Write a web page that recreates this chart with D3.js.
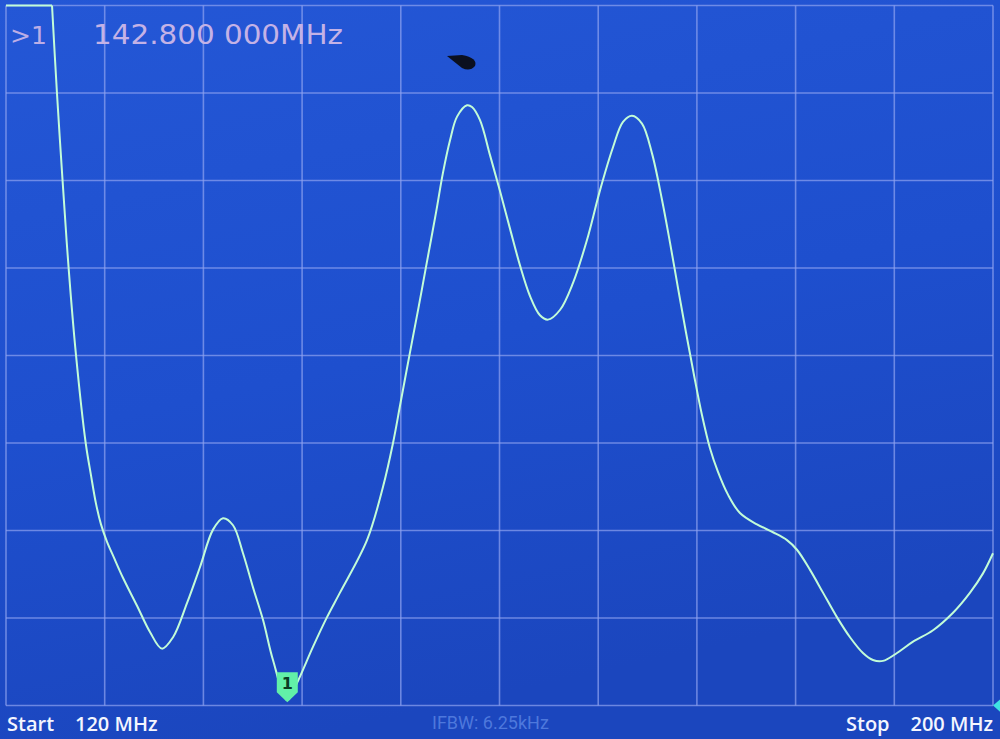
<!DOCTYPE html>
<html>
<head>
<meta charset="utf-8">
<script src="https://cdn.jsdelivr.net/npm/d3@7"></script>
<style>
  body { margin: 0; background: #1d4ed0; }
  svg { display: block; }
</style>
</head>
<body>
<div id="screen"></div>
<script>
var W = 1000;
var H = 739;

// sweep settings
var startMHz = 120;
var stopMHz = 200;
var refDb = 0;
var dbPerDiv = 10;
var xDivs = 10;
var yDivs = 8;

// trace (MHz, dB); first two points sit above the top line
var freqMHz = [120.00, 123.73, 124.13, 124.58, 125.07, 125.67, 126.46, 126.89, 127.29, 127.70,
    128.19, 128.75, 129.48, 130.62, 131.67, 132.64, 133.54, 134.67, 135.72, 136.78, 137.59,
    138.40, 139.21, 140.02, 140.83, 141.64, 142.80, 143.59, 144.88, 146.02, 147.07,
    149.26, 150.56, 151.37, 151.98, 152.71, 153.44, 154.04, 154.85, 155.42,
    155.99, 156.56, 157.37, 157.77, 158.42, 159.23, 160.04, 160.85, 161.66, 162.47, 163.28,
    163.93, 164.90, 165.96, 167.09, 168.15, 169.20, 170.01, 170.74, 171.55, 172.36,
    173.17, 173.82, 174.47, 175.12, 175.76, 176.41, 177.06, 177.71, 178.52, 179.49, 180.87,
    182.17, 183.30, 184.11, 185.17, 186.22, 187.35, 188.41, 189.46, 190.27, 191.08,
    192.22, 193.52, 195.14, 196.76, 198.14, 199.19, 200.00];
var levelDb = [3.0, 0.0, -10.0, -19.9, -29.9, -39.9, -50.0, -53.7, -56.9, -59.3,
    -61.3, -63.1, -65.4, -68.6, -71.6, -73.5, -72.2, -68.3, -64.2, -59.9, -58.6,
    -59.4, -62.6, -66.5, -70.2, -74.8, -79.4, -77.4, -73.3, -69.9, -67.1,
    -61.1, -55.0, -50.0, -45.4, -39.9, -34.5, -29.9, -23.7, -19.1,
    -15.4, -12.7, -11.4, -11.6, -13.1, -17.1, -21.2, -25.5, -29.7, -33.2, -35.4,
    -35.9, -34.8, -31.7, -26.8, -21.1, -16.2, -13.3, -12.6, -13.5, -16.9,
    -22.2, -27.1, -32.3, -37.4, -42.2, -46.8, -50.6, -53.3, -55.9, -58.0, -59.3,
    -60.2, -61.1, -62.2, -64.5, -67.1, -69.9, -72.2, -74.0, -74.8, -74.9,
    -74.0, -72.7, -71.4, -69.4, -67.1, -64.9, -62.6];

var markerMHz = 142.8;
var markerDb = -79.4;
var markerLabel = "1";
var markerText = "142.800 000MHz";
var activeMarker = ">1";
var startText = ["Start", "120 MHz"];
var stopText = ["Stop", "200 MHz"];
var ifbwText = "IFBW: 6.25kHz";

var plot = { left: 6, right: 993, top: 5.5, bottom: 705.5 };

var traceData = freqMHz.map(function(f, i) {
    return { f: f, v: levelDb[i] };
});

var x = d3.scaleLinear()
    .domain([startMHz, stopMHz])
    .range([plot.left, plot.right]);

var y = d3.scaleLinear()
    .domain([refDb - yDivs * dbPerDiv, refDb])
    .range([plot.bottom, plot.top])
    .clamp(true);

var svg = d3.select("#screen")
    .append("svg")
    .attr("width", W)
    .attr("height", H);

//Screen background, a bit lighter at the top like the photo
var defs = svg.append("defs");
var grad = defs.append("linearGradient")
    .attr("id", "bg")
    .attr("x1", 0).attr("y1", 0)
    .attr("x2", 0.3).attr("y2", 1);
grad.append("stop").attr("offset", "0%").attr("stop-color", "#2457d6");
grad.append("stop").attr("offset", "55%").attr("stop-color", "#1e4fce");
grad.append("stop").attr("offset", "100%").attr("stop-color", "#1b46be");

svg.append("rect")
    .attr("width", W)
    .attr("height", H)
    .attr("fill", "url(#bg)");

//Graticule
var xGrid = d3.range(xDivs + 1).map(function(i) {
    return startMHz + i * (stopMHz - startMHz) / xDivs;
});
var yGrid = d3.range(yDivs + 1).map(function(i) {
    return refDb - i * dbPerDiv;
});

svg.append("g")
    .attr("class", "vgrid")
    .selectAll("line")
    .data(xGrid)
    .enter()
    .append("line")
    .attr("x1", function(d) { return x(d); })
    .attr("x2", function(d) { return x(d); })
    .attr("y1", plot.top)
    .attr("y2", plot.bottom)
    .attr("stroke", "#8ea2f0")
    .attr("stroke-opacity", 0.7)
    .attr("stroke-width", 1.6);

svg.append("g")
    .attr("class", "hgrid")
    .selectAll("line")
    .data(yGrid)
    .enter()
    .append("line")
    .attr("x1", plot.left)
    .attr("x2", plot.right)
    .attr("y1", function(d) { return y(d); })
    .attr("y2", function(d) { return y(d); })
    .attr("stroke", "#8ea2f0")
    .attr("stroke-opacity", 0.7)
    .attr("stroke-width", 1.6);

//Speck of dust on the screen
svg.append("path")
    .attr("d", "M447,56 L462,55 Q478,58 475,66 Q470,72 462,68 Z")
    .attr("fill", "#0b1020");

//Trace: the clipped part along the top is straight, the rest smooth
var flatLine = d3.line()
    .x(function(d) { return x(d.f); })
    .y(function(d) { return y(d.v); });

var line = d3.line()
    .x(function(d) { return x(d.f); })
    .y(function(d) { return y(d.v); })
    .curve(d3.curveCatmullRom.alpha(0.5));

svg.append("path")
    .datum(traceData.slice(0, 2))
    .attr("d", flatLine)
    .attr("fill", "none")
    .attr("stroke", "#c2fcd8")
    .attr("stroke-width", 2);

svg.append("path")
    .datum(traceData.slice(1))
    .attr("d", line)
    .attr("fill", "none")
    .attr("stroke", "#c2fcd8")
    .attr("stroke-width", 2)
    .attr("stroke-linejoin", "round");

//Marker 1
var mx = x(markerMHz);
var my = y(markerDb) + 2;
svg.append("path")
    .attr("d", "M" + mx + "," + my +
        " L" + (mx - 10.5) + "," + (my - 10) +
        " L" + (mx - 10.5) + "," + (my - 30) +
        " L" + (mx + 10.5) + "," + (my - 30) +
        " L" + (mx + 10.5) + "," + (my - 10) + " Z")
    .attr("fill", "#62f0a8");
svg.append("text")
    .attr("x", mx)
    .attr("y", my - 13)
    .attr("text-anchor", "middle")
    .attr("font-family", "DejaVu Sans, sans-serif")
    .attr("font-size", 16)
    .attr("font-weight", "bold")
    .attr("fill", "#0b3b24")
    .text(markerLabel);

//Reference level arrow on the right edge
svg.append("path")
    .attr("d", "M993," + y(refDb - yDivs * dbPerDiv) + " l8,-7 l0,14 Z")
    .attr("fill", "#3fe3e3");

//Marker readout
svg.append("text")
    .attr("x", 10)
    .attr("y", 44)
    .attr("font-family", "DejaVu Sans, sans-serif")
    .attr("font-size", 25)
    .attr("fill", "#bcaee6")
    .text(activeMarker);
svg.append("text")
    .attr("x", 93)
    .attr("y", 44)
    .attr("font-family", "DejaVu Sans, sans-serif")
    .attr("font-size", 27)
    .attr("textLength", 250)
    .attr("lengthAdjust", "spacingAndGlyphs")
    .attr("fill", "#c4b2e6")
    .text(markerText);

//Bottom annotations
var bottomFont = "Open Sans, Noto Sans, sans-serif";
svg.append("text")
    .attr("x", 7)
    .attr("y", 731)
    .attr("font-family", bottomFont)
    .attr("font-size", 20)
    .attr("font-weight", 600)
    .attr("fill", "#f4f6ff")
    .text(startText[0]);
svg.append("text")
    .attr("x", 75)
    .attr("y", 731)
    .attr("font-family", bottomFont)
    .attr("font-size", 20)
    .attr("font-weight", 600)
    .attr("fill", "#f4f6ff")
    .text(startText[1]);
svg.append("text")
    .attr("x", 846)
    .attr("y", 731)
    .attr("font-family", bottomFont)
    .attr("font-size", 20)
    .attr("font-weight", 600)
    .attr("fill", "#f4f6ff")
    .text(stopText[0]);
svg.append("text")
    .attr("x", 993)
    .attr("y", 731)
    .attr("text-anchor", "end")
    .attr("font-family", bottomFont)
    .attr("font-size", 20)
    .attr("font-weight", 600)
    .attr("fill", "#f4f6ff")
    .text(stopText[1]);
svg.append("text")
    .attr("x", 432)
    .attr("y", 729)
    .attr("font-family", "Liberation Sans Narrow, Roboto, sans-serif")
    .attr("font-size", 18)
    .attr("fill", "#4e78dc")
    .text(ifbwText);
</script>
</body>
</html>
